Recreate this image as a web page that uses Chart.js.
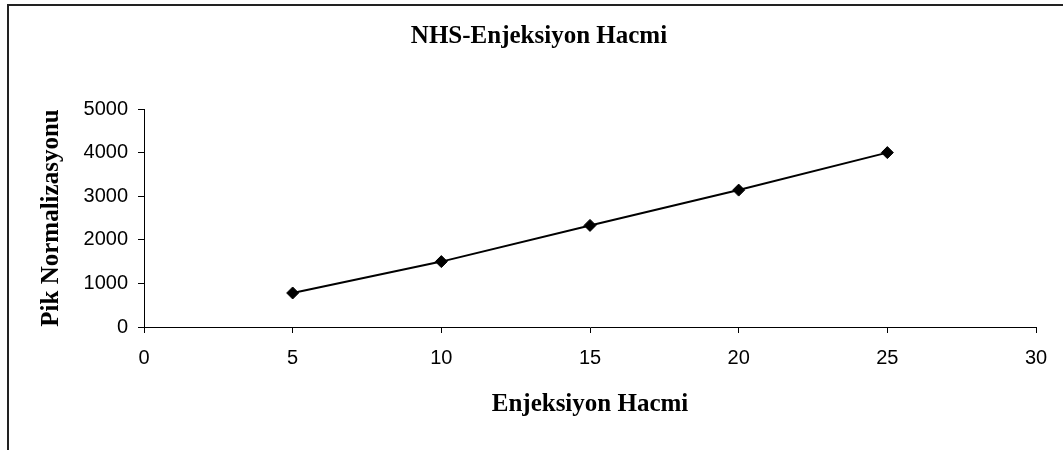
<!DOCTYPE html>
<html>
<head>
<meta charset="utf-8">
<script src="https://cdn.jsdelivr.net/npm/chart.js@4/dist/chart.umd.min.js"></script>
<style>
  html, body { margin: 0; padding: 0; background: #fff; }
  #wrap { position: relative; width: 1063px; height: 450px; overflow: hidden; }
  #frame { position: absolute; left: 7px; top: 4px; width: 1100px; height: 500px;
           border-top: 2px solid #222; border-left: 2px solid #222; }
  #chart { position: absolute; left: 0; top: 0; }
</style>
</head>
<body>
<div id="wrap">
  <div id="frame"></div>
  <canvas id="chart" width="1063" height="450"></canvas>
</div>
<script>
(function() {
  // data
  const injectionVolume = [5, 10, 15, 20, 25];
  const peakNormalization = [780, 1500, 2330, 3140, 4000];
  const xTicks = [0, 5, 10, 15, 20, 25, 30];
  const yTicks = [0, 1000, 2000, 3000, 4000, 5000];

  const serif = '"Times New Roman", "Liberation Serif", serif';
  const sans = 'Arial, "Liberation Sans", sans-serif';

  const points = injectionVolume.map((x, i) => ({ x: x, y: peakNormalization[i] }));

  new Chart(document.getElementById('chart').getContext('2d'), {
    type: 'line',
    data: {
      datasets: [{
        label: 'NHS',
        data: points,
        borderColor: '#000',
        borderWidth: 2,
        backgroundColor: '#000',
        pointStyle: 'rectRot',
        pointRadius: 6,
        pointBorderWidth: 1,
        pointBorderColor: '#000',
        pointBackgroundColor: '#000',
        tension: 0,
        fill: false
      }]
    },
    options: {
      responsive: false,
      animation: false,
      layout: { padding: { left: 15, right: 0, top: 0, bottom: 30 } },
      plugins: {
        legend: { display: false },
        tooltip: { enabled: false },
        title: {
          display: true,
          text: 'NHS-Enjeksiyon Hacmi',
          color: '#000',
          font: { family: serif, size: 25, weight: 'bold' },
          padding: { top: 22, bottom: 57 }
        }
      },
      scales: {
        x: {
          type: 'linear',
          min: xTicks[0],
          max: xTicks[xTicks.length - 1],
          afterBuildTicks: s => { s.ticks = xTicks.map(v => ({ value: v })); },
          afterFit: s => { s.height = 93; s.paddingRight = 27; },
          grid: { drawOnChartArea: false, tickLength: 6, color: '#000' },
          border: { display: true, color: '#000', width: 1 },
          ticks: { color: '#000', padding: 13, font: { family: sans, size: 20 }, maxRotation: 0,
                   callback: v => String(v) },
          title: {
            display: true,
            text: 'Enjeksiyon Hacmi',
            color: '#000',
            font: { family: serif, size: 25, weight: 'bold' },
            padding: { top: 0, bottom: 0 }
          }
        },
        y: {
          min: yTicks[0],
          max: yTicks[yTicks.length - 1],
          afterBuildTicks: s => { s.ticks = yTicks.map(v => ({ value: v })); },
          afterFit: s => { s.width = 129; },
          grid: { drawOnChartArea: false, tickLength: 6, color: '#000' },
          border: { display: true, color: '#000', width: 1 },
          ticks: { color: '#000', padding: 10, font: { family: sans, size: 20 },
                   callback: v => String(v) },
          title: {
            display: true,
            text: 'Pik Normalizasyonu',
            color: '#000',
            font: { family: serif, size: 25, weight: 'bold' },
            padding: { top: 22, bottom: 0 }
          }
        }
      }
    }
  });
})();
</script>
</body>
</html>
